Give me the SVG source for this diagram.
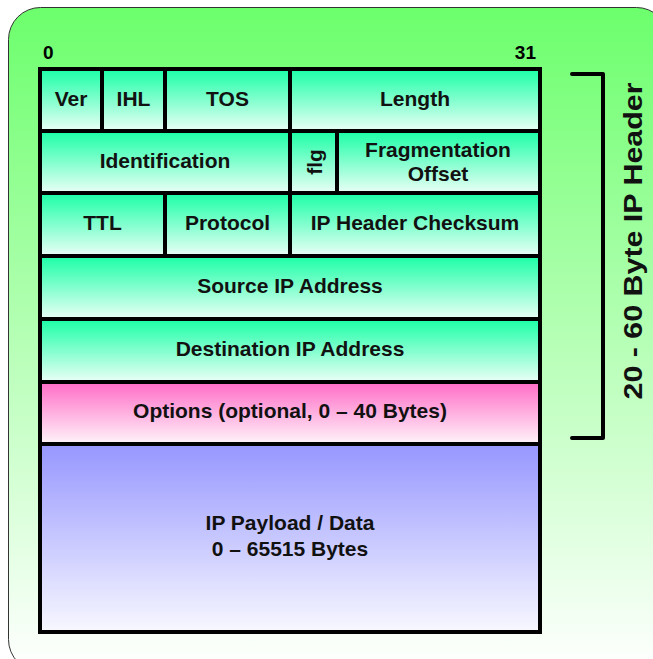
<svg xmlns="http://www.w3.org/2000/svg" width="653" height="659" viewBox="0 0 653 659">
<defs>
<linearGradient id="bg" x1="0" y1="0" x2="0" y2="1"><stop offset="0" stop-color="#6cff6c"/><stop offset="1" stop-color="#ffffff"/></linearGradient>
<linearGradient id="teal" x1="0" y1="0" x2="0" y2="1"><stop offset="0" stop-color="#1affa6"/><stop offset="1" stop-color="#eafff6"/></linearGradient>
<linearGradient id="pink" x1="0" y1="0" x2="0" y2="1"><stop offset="0" stop-color="#ff6cc6"/><stop offset="1" stop-color="#fff4fa"/></linearGradient>
<linearGradient id="blue" x1="0" y1="0" x2="0" y2="1"><stop offset="0" stop-color="#9696ff"/><stop offset="1" stop-color="#f8f8ff"/></linearGradient>
</defs>
<style>
.c{stroke:#000;stroke-width:4}
.t{font-family:"Liberation Sans",Arial,sans-serif;font-weight:bold;font-size:21px;fill:#111;text-anchor:middle}
.n{font-family:"Liberation Sans",Arial,sans-serif;font-weight:bold;font-size:19px;fill:#000}
</style>
<rect x="8.5" y="7.5" width="660" height="664" rx="32" fill="url(#bg)" stroke="#333" stroke-width="1"/>
<text class="n" x="43" y="59">0</text>
<text class="n" x="536" y="59" text-anchor="end">31</text>
<g id="ver"><rect class="c" x="40" y="69" width="62" height="62" fill="url(#teal)"/><text class="t" x="71" y="106">Ver</text></g>
<g id="ihl"><rect class="c" x="102" y="69" width="63" height="62" fill="url(#teal)"/><text class="t" x="133.5" y="106">IHL</text></g>
<g id="tos"><rect class="c" x="165" y="69" width="125" height="62" fill="url(#teal)"/><text class="t" x="227.5" y="106">TOS</text></g>
<g id="length"><rect class="c" x="290" y="69" width="250" height="62" fill="url(#teal)"/><text class="t" x="415" y="106">Length</text></g>
<g id="identification"><rect class="c" x="40" y="131" width="250" height="62" fill="url(#teal)"/><text class="t" x="165" y="168">Identification</text></g>
<g id="flg"><rect class="c" x="290" y="131" width="47" height="62" fill="url(#teal)"/><text class="t" transform="translate(322,162) rotate(-90)">flg</text></g>
<g id="fragoffset"><rect class="c" x="337" y="131" width="203" height="62" fill="url(#teal)"/><text class="t" x="438" y="157">Fragmentation</text><text class="t" x="438" y="181">Offset</text></g>
<g id="ttl"><rect class="c" x="40" y="193" width="125" height="63" fill="url(#teal)"/><text class="t" x="102.5" y="230">TTL</text></g>
<g id="protocol"><rect class="c" x="165" y="193" width="125" height="63" fill="url(#teal)"/><text class="t" x="227.5" y="230">Protocol</text></g>
<g id="checksum"><rect class="c" x="290" y="193" width="250" height="63" fill="url(#teal)"/><text class="t" x="415" y="230">IP Header Checksum</text></g>
<g id="source"><rect class="c" x="40" y="256" width="500" height="63" fill="url(#teal)"/><text class="t" x="290" y="293">Source IP Address</text></g>
<g id="destination"><rect class="c" x="40" y="319" width="500" height="63" fill="url(#teal)"/><text class="t" x="290" y="356">Destination IP Address</text></g>
<g id="options"><rect class="c" x="40" y="382" width="500" height="62" fill="url(#pink)"/><text class="t" x="290" y="418">Options (optional, 0 – 40 Bytes)</text></g>
<g id="payload"><rect class="c" x="40" y="444" width="500" height="188" fill="url(#blue)"/><text class="t" x="290" y="530">IP Payload / Data</text><text class="t" x="290" y="556">0 – 65515 Bytes</text></g>
<g id="connectors"><path d="M572 74 H603 V438 H572" fill="none" stroke="#000" stroke-width="4" stroke-linecap="round" stroke-linejoin="round"/></g>
<g id="headerlabel"><text class="t" style="font-size:26px" textLength="317" lengthAdjust="spacingAndGlyphs" transform="translate(642,241) rotate(-90)">20 - 60 Byte IP Header</text></g>
</svg>
